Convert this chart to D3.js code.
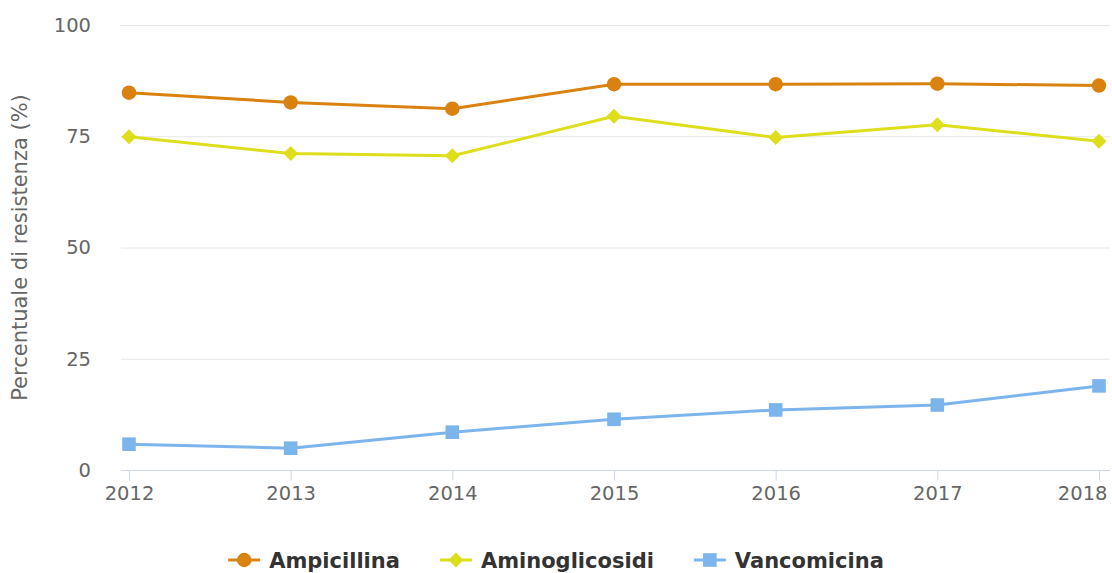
<!DOCTYPE html>
<html><head><meta charset="utf-8">
<script src="https://cdn.jsdelivr.net/npm/d3@7"></script>
<style>body{margin:0;background:#fff;} svg{display:block;font-family:"DejaVu Sans",sans-serif;}</style>
</head><body>
<svg id="c" width="1112" height="573"></svg>
<script>
const years = [2012, 2013, 2014, 2015, 2016, 2017, 2018];
const ampicillina = [84.8, 82.6, 81.2, 86.7, 86.7, 86.8, 86.4];
const aminoglicosidi = [74.9, 71.1, 70.6, 79.5, 74.7, 77.6, 73.9];
const vancomicina = [5.8, 4.9, 8.5, 11.4, 13.5, 14.6, 18.9];
const yTicks = [0, 25, 50, 75, 100];
const seriesNames = ["Ampicillina", "Aminoglicosidi", "Vancomicina"];
const seriesColors = ["#d9820f", "#dede1c", "#7cb5ec"];
const seriesSymbols = ["circle", "diamond", "square"];
const yTitle = "Percentuale di resistenza (%)";

const series = [ampicillina, aminoglicosidi, vancomicina].map((v, i) => ({
  name: seriesNames[i], color: seriesColors[i], symbol: seriesSymbols[i],
  values: years.map((y, j) => ({year: y, value: v[j]}))
}));

const svg = d3.select("#c");
const plotL = 121, plotR = 1110, plotT = 25, plotB = 470;
const x = d3.scaleLinear().domain([2012, 2018]).range([129, 1099]);
const y = d3.scaleLinear().domain([0, 100]).range([plotB, plotT]);

// gridlines
svg.append("g").selectAll("line").data(yTicks.filter(d => d > 0)).join("line")
  .attr("x1", plotL).attr("x2", plotR)
  .attr("y1", d => y(d) + 0.5).attr("y2", d => y(d) + 0.5)
  .attr("stroke", "#e6e6e6").attr("stroke-width", 1);

// y axis labels
const yAxis = d3.axisLeft(y).tickValues(yTicks).tickSize(0).tickPadding(0);
const yg = svg.append("g").attr("transform", `translate(91,0)`).call(yAxis);
yg.select(".domain").remove();
yg.selectAll("text").attr("font-size", 19.5).attr("fill", "#666").attr("font-family", "DejaVu Sans, sans-serif");

// x axis
const xAxis = d3.axisBottom(x).tickValues(years).tickFormat(d3.format("d")).tickSize(10).tickPadding(6);
const xg = svg.append("g").attr("transform", `translate(0,${plotB + 0.5})`).call(xAxis);
xg.select(".domain").remove();
xg.append("line").attr("x1", plotL).attr("x2", plotR).attr("stroke", "#ccd6eb");
xg.selectAll(".tick line").attr("stroke", "#ccd6eb");
xg.selectAll("text").attr("font-size", 19.5).attr("fill", "#666").attr("font-family", "DejaVu Sans, sans-serif");
// keep last label inside the chart
xg.selectAll(".tick").filter(d => d === years[years.length - 1]).select("text")
  .attr("text-anchor", "end").attr("x", 1107 - x(years[years.length - 1]));

// y title
svg.append("text").attr("transform", `translate(27,${(plotT + plotB) / 2}) rotate(-90)`)
  .attr("text-anchor", "middle").attr("font-size", 21).attr("fill", "#666").text(yTitle);

function symbolPath(sym) {
  if (sym === "circle") return d3.symbol(d3.symbolCircle, 165)();
  if (sym === "diamond") return "M0,-7.5L7.5,0L0,7.5L-7.5,0Z";
  return "M-6.8,-6.8H6.8V6.8H-6.8Z";
}

const line = d3.line().x(d => x(d.year)).y(d => y(d.value));
series.forEach(s => {
  const g = svg.append("g");
  g.append("path").datum(s.values).attr("d", line).attr("fill", "none")
    .attr("stroke", s.color).attr("stroke-width", 3).attr("stroke-linejoin", "round");
  g.selectAll("path.m").data(s.values).join("path").attr("class", "m")
    .attr("transform", d => `translate(${x(d.year)},${y(d.value)})`)
    .attr("d", symbolPath(s.symbol)).attr("fill", s.color);
});

// legend
const lg = svg.append("g");
let cx = 0;
series.forEach((s, i) => {
  const g = lg.append("g");
  g.append("line").attr("x1", 0).attr("x2", 32).attr("y1", 0).attr("y2", 0).attr("stroke", s.color).attr("stroke-width", 3);
  g.append("path").attr("transform", "translate(16,0)").attr("d", symbolPath(s.symbol)).attr("fill", s.color);
  const t = g.append("text").attr("x", 41).attr("y", 7.5).attr("font-size", 21).attr("font-weight", "bold").attr("fill", "#333").text(s.name);
  const w = 41 + t.node().getComputedTextLength();
  g.attr("transform", `translate(${cx},560)`);
  cx += w + 40;
});
const totalW = cx - 40;
lg.attr("transform", `translate(${(1112 - totalW) / 2},0)`);
</script>
</body></html>
